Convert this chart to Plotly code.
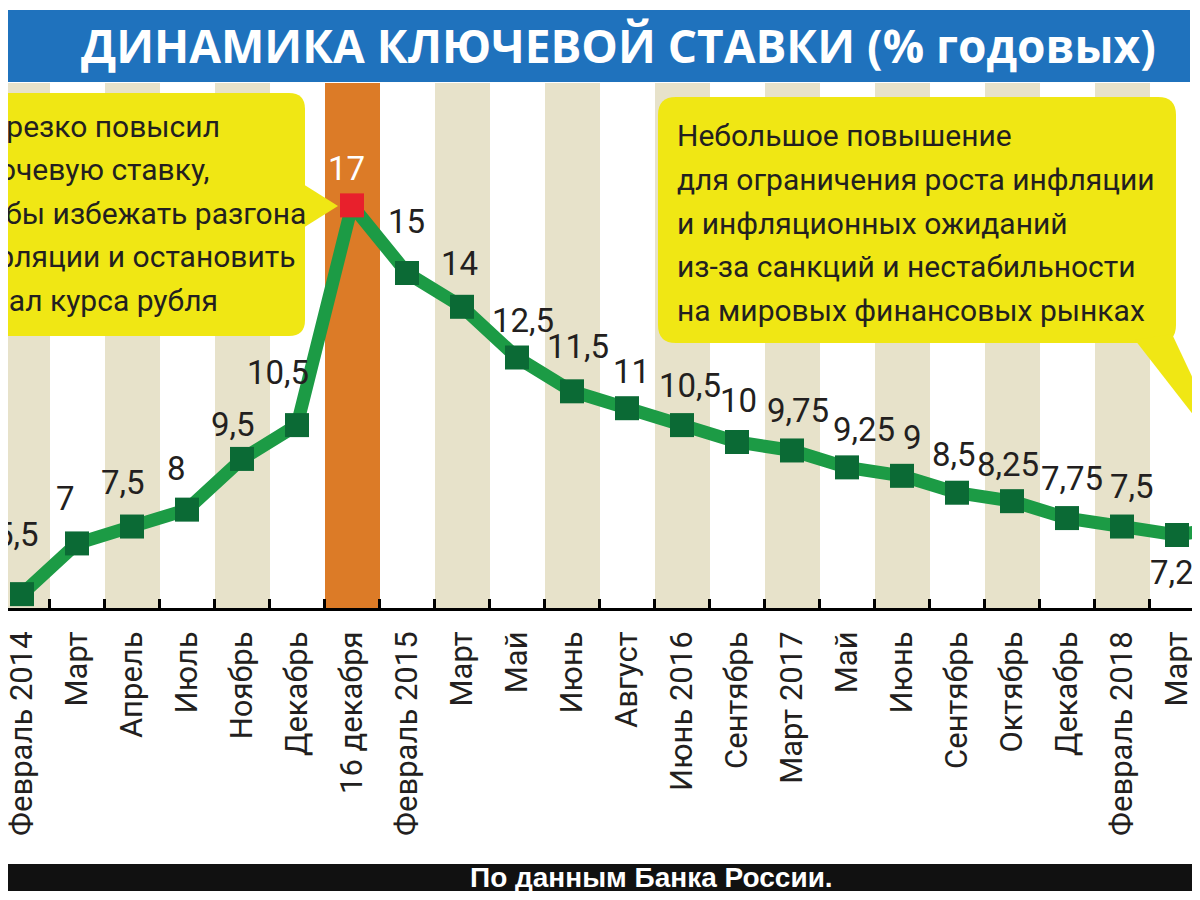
import plotly.graph_objects as go

# --- data ---------------------------------------------------------------
categories = ["Февраль 2014", "Март", "Апрель", "Июль", "Ноябрь", "Декабрь",
              "16 декабря", "Февраль 2015", "Март", "Май", "Июнь", "Август",
              "Июнь 2016", "Сентябрь", "Март 2017", "Май", "Июнь", "Сентябрь",
              "Октябрь", "Декабрь", "Февраль 2018", "Март", "Сентябрь"]
rate = [5.5, 7, 7.5, 8, 9.5, 10.5, 17, 15, 14, 12.5, 11.5, 11, 10.5, 10, 9.75,
        9.25, 9, 8.5, 8.25, 7.75, 7.5, 7.25, 7.5]
peak_idx = 6

title_text = "ДИНАМИКА КЛЮЧЕВОЙ СТАВКИ (% годовых)"
source_text = "По данным Банка России."
left_note = ["ЦБ резко повысил", "ключевую ставку,", "чтобы избежать разгона",
             "инфляции и остановить", "обвал курса рубля"]
right_note = ["Небольшое повышение", "для ограничения роста инфляции",
              "и инфляционных ожиданий", "из-за санкций и нестабильности",
              "на мировых финансовых рынках"]

# label nudges in px (dx, dy up) - styling only
label_shift = [(-5, 60), (-12, 45), (-9, 44), (-11, 41), (-9, 34), (-19, 53),
               (-6, 37), (-1, 51), (-3, 43), (6, 37), (6, 45), (4, 37), (8, 40),
               (1, 42), (6, 40), (17, 38), (10, 38), (-3, 38), (-4, 37), (5, 40),
               (10, 40), (4, -38), (0, 40)]

# --- style --------------------------------------------------------------
PAGE_OFF = 8                      # default body margin of the html page
W, H = 1200 - PAGE_OFF, 900 - PAGE_OFF
PLOT_TOP, PLOT_BOTTOM = 83, 608   # page pixels
COL0, COL_W = 22, 55              # page x of first category, column width
X_RANGE = [(PAGE_OFF - COL0) / COL_W, (1200 - COL0) / COL_W]
Y_RANGE = [5.09, 20.62]

BLUE = "#1F72BD"
BEIGE = "#E7E2CA"
ORANGE = "#DC7B27"
YELLOW = "#F0E714"
GREEN = "#1C9B45"
DARK_GREEN = "#0B6A35"
RED = "#E8202C"
INK = "#231F20"
FONT = "Roboto"

idx = list(range(len(rate)))


def px(x, y):
    # page pixels -> paper coords
    fx, fy = x - PAGE_OFF, y - PAGE_OFF
    top, bottom = PLOT_TOP - PAGE_OFF, PLOT_BOTTOM - PAGE_OFF
    return fx / W, (bottom - fy) / (bottom - top)


def P(x, y):
    u, v = px(x, y)
    return f"{u:.5f},{v:.5f}"


def rounded_box(x0, y0, x1, y1, r):
    return (f"M{P(x0 + r, y0)} L{P(x1 - r, y0)} Q{P(x1, y0)} {P(x1, y0 + r)} "
            f"L{P(x1, y1 - r)} Q{P(x1, y1)} {P(x1 - r, y1)} "
            f"L{P(x0 + r, y1)} Q{P(x0, y1)} {P(x0, y1 - r)} "
            f"L{P(x0, y0 + r)} Q{P(x0, y0)} {P(x0 + r, y0)} Z")


def triangle(a, b, c):
    return f"M{P(*a)} L{P(*b)} L{P(*c)} Z"


stripe_colors = []
for i in idx:
    if i == peak_idx:
        stripe_colors.append(ORANGE)
    elif i % 2 == 0:
        stripe_colors.append(BEIGE)
    else:
        stripe_colors.append("white")

marker_colors = [RED if i == peak_idx else DARK_GREEN for i in idx]

fig = go.Figure()
fig.add_trace(go.Bar(
    x=idx, y=[Y_RANGE[1] - Y_RANGE[0]] * len(idx), base=Y_RANGE[0],
    width=1, marker=dict(color=stripe_colors, line_width=0),
    hoverinfo="skip", showlegend=False))
fig.add_trace(go.Scatter(
    x=idx, y=rate, mode="lines+markers",
    line=dict(color=GREEN, width=13),
    marker=dict(symbol="square", size=24, color=marker_colors, line_width=0),
    showlegend=False))

annotations = []
for i, v in enumerate(rate):
    dx, dy = label_shift[i]
    annotations.append(dict(
        x=i, y=v, xref="x", yref="y", text=f"{v:g}".replace(".", ","),
        showarrow=False, xshift=dx, yshift=dy, xanchor="center", yanchor="middle",
        font=dict(family=FONT, size=33, color="white" if i == peak_idx else INK)))

shapes = [
    dict(type="rect", xref="paper", yref="paper",
         x0=px(0, 0)[0] - 0.01, x1=px(1190, 0)[0], y0=px(0, 82)[1], y1=px(0, 10)[1],
         fillcolor=BLUE, line_width=0, layer="above"),
    dict(type="rect", xref="paper", yref="paper",
         x0=px(0, 0)[0] - 0.01, x1=px(1205, 0)[0], y0=px(0, 891)[1], y1=px(0, 864)[1],
         fillcolor="#111111", line_width=0, layer="above"),
    dict(type="path", xref="paper", yref="paper", path=rounded_box(-40, 93, 305, 336, 16),
         fillcolor=YELLOW, line_width=0, layer="above"),
    dict(type="path", xref="paper", yref="paper",
         path=triangle((303, 184), (338, 206), (303, 228)),
         fillcolor=YELLOW, line_width=0, layer="above"),
    dict(type="path", xref="paper", yref="paper", path=rounded_box(658, 97, 1176, 343, 18),
         fillcolor=YELLOW, line_width=0, layer="above"),
    dict(type="path", xref="paper", yref="paper",
         path=triangle((1135, 340), (1236, 470), (1172, 334)),
         fillcolor=YELLOW, line_width=0, layer="above"),
]

tx, ty = px(618, 45)
annotations.append(dict(x=tx, y=ty, xref="paper", yref="paper", text=title_text,
                        showarrow=False, xanchor="center", yanchor="middle",
                        font=dict(family="Open Sans", size=46, color="white", weight=700)))
sx, sy = px(651, 877)
annotations.append(dict(x=sx, y=sy, xref="paper", yref="paper", text=source_text,
                        showarrow=False, xanchor="center", yanchor="middle",
                        font=dict(family="Liberation Sans", size=28, color="white", weight=700)))

for k, line in enumerate(left_note):
    lx, ly = px(-44, 126 + k * 43.6)
    annotations.append(dict(x=lx, y=ly, xref="paper", yref="paper", text=line,
                            showarrow=False, xanchor="left", yanchor="middle",
                            font=dict(family=FONT, size=30, color=INK)))
for k, line in enumerate(right_note):
    rx, ry = px(675, 136 + k * 43.6)
    annotations.append(dict(x=rx, y=ry, xref="paper", yref="paper", text=line,
                            showarrow=False, xanchor="left", yanchor="middle",
                            font=dict(family=FONT, size=30, color=INK)))

fig.update_layout(
    width=W, height=H, template="none",
    margin=dict(l=0, r=0, t=PLOT_TOP - PAGE_OFF, b=H - (PLOT_BOTTOM - PAGE_OFF), pad=0),
    paper_bgcolor="white", plot_bgcolor="white",
    bargap=0, showlegend=False,
    shapes=shapes, annotations=annotations,
    xaxis=dict(range=X_RANGE, tickmode="array", tickvals=idx, ticktext=categories,
               tickangle=-90, tickfont=dict(family=FONT, size=31, color=INK),
               ticks="", showgrid=False, zeroline=False, automargin=False,
               showline=True, linecolor="black", linewidth=3,
               ticklabelstandoff=8, ticklabeloverflow="allow",
               minor=dict(tickmode="linear", tick0=0.5, dtick=1, ticks="inside",
                          ticklen=9, tickwidth=2.5, tickcolor="black", showgrid=False)),
    yaxis=dict(range=Y_RANGE, visible=False, automargin=False),
)

fig.write_html("out.html")
